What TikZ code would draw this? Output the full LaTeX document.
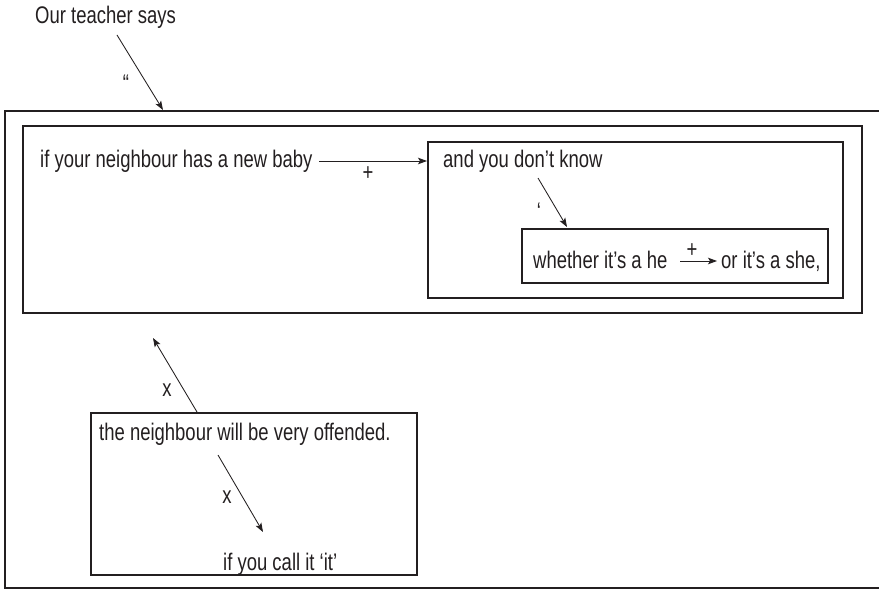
\documentclass[tikz,border=0pt]{standalone}
\usepackage{fontspec}
\setmainfont[FakeStretch=0.77]{Liberation Sans}
\usetikzlibrary{arrows.meta}
\definecolor{ink}{HTML}{231F20}
\begin{document}
\begin{tikzpicture}[x=1pt,y=-1pt,
  txt/.style={font=\fontsize{24}{29}\selectfont, text=ink, inner sep=0pt, anchor=base west},
  lbl/.style={font=\fontsize{24}{29}\selectfont, text=ink, inner sep=0pt},
  box/.style={draw=ink, line width=1.7pt, inner sep=0pt, outer sep=0pt},
  conn/.style={draw=ink, line width=0.85pt, -{Stealth[length=9pt,width=6.5pt,inset=2pt]}}]
\clip (0,0) rectangle (879,591);
\fill[white] (0,0) rectangle (879,591);

% boxes
\node[box, minimum width=879pt, minimum height=477pt] (outer) at (444.5,349.5) {};
\node[box, minimum width=839pt, minimum height=187pt] (b2) at (442.5,219.5) {};
\node[box, minimum width=415pt, minimum height=156pt] (b3) at (635.5,220) {};
\node[box, minimum width=306pt, minimum height=54pt] (b4) at (675,256) {};
\node[box, minimum width=326pt, minimum height=162pt] (b5) at (254,494) {};

% texts
\node[txt] (t0) at (35,24) {Our teacher says};
\node[txt] (t1) at (40,168) {if your neighbour has a new baby};
\node[txt] (t2) at (443,168) {and you don’t know};
\node[txt] (t3) at (533,269) {whether it’s a he};
\node[txt] (t4) at (721,269) {or it’s a she,};
\node[txt] (t5) at (99,440) {the neighbour will be very offended.};
\node[txt] (t6) at (223,570) {if you call it ‘it’};

% connector end points
\coordinate (a1s) at (117,35);
\coordinate (a1e) at (163,110);
\coordinate (a2s) at (319,161);
\coordinate (a2e) at (427,161);
\coordinate (a3s) at (538,178);
\coordinate (a3e) at (567,227);
\coordinate (a4s) at (680,261);
\coordinate (a4e) at (717,261);
\coordinate (a5s) at (197,412);
\coordinate (a5e) at (153,338);
\coordinate (a6s) at (218,455);
\coordinate (a6e) at (263,532);

% connectors
\draw[conn] (a1s) -- (a1e);
\draw[conn] (a2s) -- (a2e);
\draw[conn] (a3s) -- (a3e);
\draw[conn] (a4s) -- (a4e);
\draw[conn] (a5s) -- (a5e);
\draw[conn] (a6s) -- (a6e);

% labels
\node[lbl, anchor=base] (l1) at (126,92) {“};
\node[lbl] (l2) at (368,174) {+};
\node[lbl, anchor=base] (l3) at (539,220) {‘};
\node[lbl] (l4) at (692,251) {+};
\node[lbl] (l5) at (167,390) {x};
\node[lbl] (l6) at (227,497) {x};
\end{tikzpicture}
\end{document}
